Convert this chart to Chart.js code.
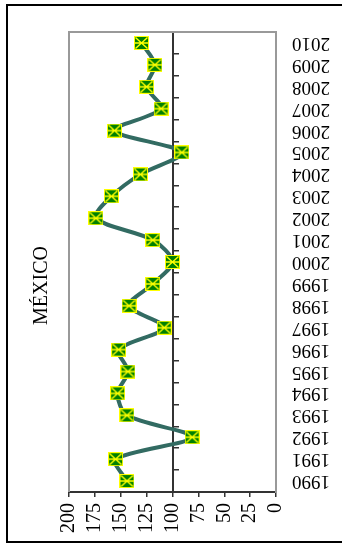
<!DOCTYPE html>
<html>
<head>
<meta charset="utf-8">
<script src="https://cdn.jsdelivr.net/npm/chart.js@4/dist/chart.umd.min.js"></script>
<style>
  html, body { margin: 0; padding: 0; background: #fff; overflow: hidden; }
  #box { position: absolute; left: 6px; top: 4px; width: 345px; height: 535px; border: 2px solid #000; }
  #wrap { position: absolute; left: 0; top: 0; width: 342px; height: 546px; }
</style>
</head>
<body>
<div id="box"></div>
<div id="wrap"><canvas id="mexicoChart" width="342" height="546"></canvas></div>
<script>
var years = ['1990','1991','1992','1993','1994','1995','1996','1997','1998','1999','2000',
             '2001','2002','2003','2004','2005','2006','2007','2008','2009','2010'];
var values = [144, 155, 81, 144, 153, 143, 152, 108, 142, 119, 100,
              119, 174, 159, 131, 91, 156, 111, 125, 117, 130];
var axisMin = 0;
var axisMax = 200;
var axisStep = 25;
var crossAt = 100;

// marker: green square, yellow border, yellow star
var marker = document.createElement('canvas');
marker.width = 15;
marker.height = 14;
var m = marker.getContext('2d');
m.fillStyle = '#008000';
m.fillRect(0, 0, 15, 14);
m.strokeStyle = '#ffff00';
m.lineWidth = 1;
m.strokeRect(0.5, 0.5, 14, 13);
m.lineWidth = 1.4;
m.beginPath();
m.moveTo(1.5, 1.5); m.lineTo(13.5, 12.5);
m.moveTo(13.5, 1.5); m.lineTo(1.5, 12.5);
m.moveTo(1, 7); m.lineTo(14, 7);
m.stroke();

var serif = 'Liberation Serif';

var plotFrame = {
    id: 'plotFrame',
    beforeDatasetsDraw: function(chart) {
        var a = chart.chartArea;
        var ctx = chart.ctx;
        ctx.save();
        ctx.strokeStyle = '#999';
        ctx.lineWidth = 2;
        ctx.beginPath();
        ctx.moveTo(a.left, a.bottom);
        ctx.lineTo(a.left, a.top);
        ctx.lineTo(a.right, a.top);
        ctx.stroke();
        ctx.restore();
    }
};

var chart = new Chart(document.getElementById('mexicoChart').getContext('2d'), {
    type: 'line',
    data: {
        labels: years,
        datasets: [
            {
                label: 'México',
                data: values,
                borderColor: '#326b62',
                backgroundColor: 'transparent',
                borderWidth: 4,
                tension: 0.3,
                pointStyle: marker,
                pointRadius: 7,
                yAxisID: 'y'
            }
        ]
    },
    options: {
        indexAxis: 'y',
        responsive: false,
        animation: false,
        layout: {
            padding: { top: 32, right: 6, bottom: 7, left: 15 }
        },
        plugins: {
            legend: { display: false },
            tooltip: { enabled: false },
            title: {
                display: true,
                text: 'MÉXICO',
                position: 'left',
                color: '#000',
                font: { family: serif, size: 20, weight: 'normal' },
                padding: 15
            }
        },
        scales: {
            x: {
                type: 'linear',
                position: 'bottom',
                reverse: true,
                min: axisMin,
                max: axisMax,
                grid: {
                    drawOnChartArea: false,
                    tickLength: 5,
                    color: '#333',
                    lineWidth: 1.5
                },
                border: { color: '#333', width: 2 },
                ticks: {
                    stepSize: axisStep,
                    autoSkip: false,
                    minRotation: 90,
                    maxRotation: 90,
                    padding: 6,
                    color: '#000',
                    font: { family: serif, size: 20 }
                }
            },
            y: {
                type: 'category',
                position: 'right',
                reverse: true,
                offset: true,
                grid: { drawOnChartArea: false, drawTicks: false },
                border: { color: '#999', width: 2 },
                ticks: {
                    minRotation: 180,
                    maxRotation: 180,
                    crossAlign: 'center',
                    padding: 16,
                    autoSkip: false,
                    color: '#000',
                    font: { family: serif, size: 19 }
                },
                afterFit: function(scale) { scale.width = 60; }
            },
            yMid: {
                type: 'category',
                labels: years,
                position: { x: crossAt },
                reverse: true,
                offset: true,
                grid: {
                    offset: true,
                    drawOnChartArea: false,
                    tickLength: -7,
                    color: '#333',
                    lineWidth: 1.5
                },
                border: { color: '#333', width: 2 },
                ticks: { display: false }
            }
        }
    },
    plugins: [plotFrame]
});
</script>
</body>
</html>
